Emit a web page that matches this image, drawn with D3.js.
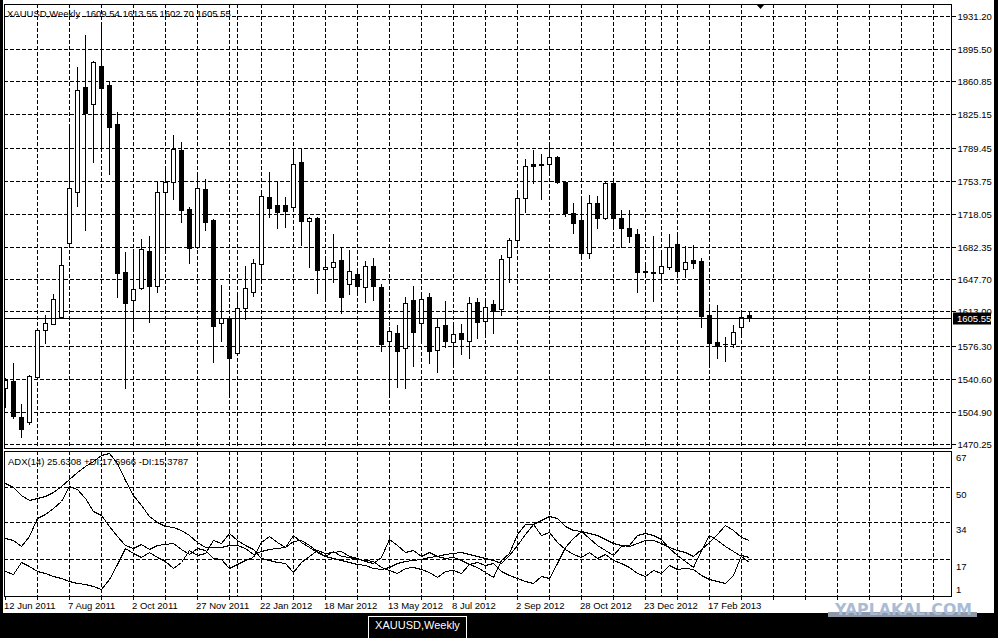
<!DOCTYPE html>
<html>
<head>
<meta charset="utf-8">
<script src="https://cdn.jsdelivr.net/npm/d3@7"></script>
<style>
  html, body { margin: 0; padding: 0; background: #000; }
  svg { display: block; font-family: "Liberation Sans", Arial, sans-serif; }
</style>
</head>
<body>
<div id="chart"></div>
<script>
const symbol = "XAUUSD,Weekly"

// weekly bars, 12 Jun 2011 .. 24 Mar 2013
const openP = [1530.9, 1538.4, 1499.7, 1494.3, 1542.7, 1593.3, 1599.8, 1607.3, 1686.9, 1741.8,
  1854.8, 1836.5, 1877.4, 1857.0, 1815.0, 1655.7, 1625.6, 1638.5, 1678.3, 1640.7,
  1741.8, 1752.6, 1787.0, 1723.5, 1682.6, 1745.0, 1711.7, 1600.9, 1606.2, 1568.6,
  1617.0, 1634.2, 1664.3, 1736.4, 1727.8, 1727.8, 1725.7, 1774.1, 1710.6, 1713.8,
  1659.0, 1661.1, 1668.6, 1642.8, 1653.6, 1639.6, 1662.2, 1639.6, 1581.5, 1590.1,
  1573.9, 1625.6, 1600.9, 1628.8, 1571.8, 1598.7, 1580.4, 1590.1, 1581.5, 1623.4,
  1603.0, 1621.3, 1615.9, 1671.9, 1690.2, 1735.4, 1771.9, 1771.9, 1771.9, 1779.5,
  1752.6, 1719.2, 1711.7, 1676.2, 1730.0, 1713.8, 1751.5, 1713.8, 1703.1, 1696.6,
  1655.7, 1654.7, 1654.7, 1661.1, 1685.9, 1659.0, 1668.6, 1667.6, 1609.5, 1580.4,
  1578.3, 1578.3, 1596.5, 1609.54]
const highP = [1541.7, 1557.8, 1513.7, 1544.9, 1594.0, 1609.5, 1632.1, 1681.6, 1815.0, 1876.3,
  1910.7, 1882.8, 1920.4, 1861.2, 1827.9, 1677.2, 1680.5, 1691.2, 1694.5, 1752.6,
  1769.8, 1803.1, 1795.6, 1725.7, 1763.3, 1755.8, 1712.5, 1641.7, 1607.3, 1633.1,
  1662.2, 1669.7, 1739.7, 1763.3, 1752.6, 1736.4, 1789.2, 1789.2, 1714.9, 1714.9,
  1671.9, 1696.6, 1682.6, 1679.4, 1660.0, 1667.6, 1670.8, 1642.8, 1596.5, 1598.7,
  1628.8, 1640.7, 1633.1, 1633.1, 1606.2, 1624.5, 1601.9, 1599.8, 1628.8, 1627.8,
  1624.5, 1625.6, 1674.0, 1692.3, 1742.9, 1777.3, 1787.0, 1782.7, 1794.5, 1780.5,
  1753.5, 1730.0, 1737.5, 1738.6, 1737.5, 1752.6, 1752.5, 1722.4, 1722.4, 1702.0,
  1666.5, 1694.5, 1678.3, 1696.6, 1698.8, 1683.7, 1684.8, 1670.8, 1621.3, 1620.2,
  1585.8, 1598.7, 1614.8, 1613.55]
const lowP = [1510.5, 1498.6, 1478.2, 1492.2, 1541.7, 1579.3, 1599.0, 1606.5, 1682.6, 1726.7,
  1700.9, 1774.1, 1790.2, 1761.2, 1628.8, 1530.9, 1593.3, 1637.5, 1601.9, 1634.2,
  1677.2, 1734.3, 1709.5, 1665.4, 1681.6, 1700.9, 1558.9, 1581.5, 1522.3, 1567.6,
  1605.2, 1629.9, 1648.2, 1714.9, 1703.1, 1704.2, 1721.4, 1684.8, 1661.1, 1633.1,
  1625.6, 1645.0, 1611.6, 1632.1, 1631.0, 1623.4, 1625.6, 1570.7, 1525.5, 1532.0,
  1530.9, 1554.6, 1579.3, 1557.8, 1548.1, 1575.0, 1553.5, 1567.5, 1563.2, 1584.7,
  1590.1, 1590.1, 1609.5, 1645.0, 1682.6, 1720.3, 1751.5, 1734.3, 1762.3, 1751.5,
  1716.0, 1697.7, 1670.8, 1670.8, 1703.1, 1712.8, 1702.0, 1682.6, 1688.0, 1634.2,
  1650.3, 1624.5, 1647.1, 1659.0, 1653.6, 1650.3, 1660.0, 1596.5, 1553.5, 1563.2,
  1559.9, 1575.0, 1590.1, 1602.70]
const closeP = [1539.5, 1500.8, 1486.8, 1543.8, 1593.3, 1600.9, 1626.7, 1663.3, 1746.1, 1851.6,
  1826.8, 1881.7, 1853.7, 1811.8, 1654.7, 1622.4, 1637.4, 1680.5, 1640.7, 1741.8,
  1752.6, 1788.1, 1722.4, 1681.5, 1746.1, 1709.5, 1597.6, 1606.2, 1563.2, 1617.0,
  1638.5, 1665.4, 1737.5, 1724.6, 1720.3, 1721.4, 1771.9, 1710.6, 1713.8, 1657.9,
  1661.1, 1666.5, 1628.8, 1656.8, 1640.7, 1662.2, 1640.7, 1578.3, 1592.2, 1570.7,
  1622.4, 1591.2, 1626.7, 1570.7, 1596.5, 1581.5, 1589.0, 1583.6, 1622.4, 1601.9,
  1618.1, 1613.8, 1669.7, 1690.2, 1735.4, 1769.8, 1769.8, 1771.0, 1779.5, 1752.6,
  1719.2, 1708.4, 1676.2, 1730.0, 1713.8, 1751.5, 1713.8, 1703.1, 1694.5, 1655.7,
  1656.5, 1655.5, 1662.2, 1682.6, 1656.8, 1666.5, 1665.4, 1608.4, 1579.3, 1576.1,
  1577.5, 1591.2, 1607.3, 1605.55]

// ADX(14) window
const adx = [51.9, 50.0, 46.5, 44.2, 45.0, 46.1, 47.8, 50.6, 53.8, 56.8,
  59.5, 62.1, 64.8, 65.5, 61.0, 53.4, 46.5, 41.7, 36.6, 34.0,
  32.0, 31.7, 30.5, 27.9, 24.8, 22.7, 22.4, 22.4, 23.6, 23.6,
  21.8, 19.3, 20.6, 21.6, 22.1, 22.7, 25.4, 25.9, 23.6, 20.6,
  18.3, 17.6, 16.7, 15.6, 14.8, 14.2, 12.8, 12.3, 13.5, 15.0,
  16.0, 16.5, 17.0, 17.8, 18.5, 19.2, 19.8, 20.0, 19.5, 18.5,
  17.5, 16.3, 15.2, 19.0, 23.6, 28.5, 33.1, 35.1, 36.9, 35.8,
  32.0, 30.5, 29.7, 29.0, 27.9, 26.0, 24.5, 23.5, 22.8, 24.5,
  25.5, 25.5, 24.5, 22.5, 21.0, 20.0, 18.5, 21.5, 25.0, 28.5,
  32.6, 30.5, 27.3, 25.6308]
const plusDI = [26.7, 25.9, 23.1, 27.4, 35.8, 37.7, 40.4, 43.8, 50.6, 49.3,
  45.0, 38.9, 37.3, 32.0, 27.4, 23.6, 22.0, 24.0, 21.5, 23.5,
  23.8, 24.5, 21.5, 19.5, 22.0, 21.0, 17.5, 17.0, 13.0, 14.5,
  16.5, 18.0, 25.0, 27.5, 25.0, 22.5, 28.0, 25.0, 22.5, 20.0,
  18.5, 20.5, 18.5, 18.0, 17.0, 16.5, 16.0, 13.5, 12.0, 10.5,
  13.0, 13.5, 12.5, 11.0, 8.5, 11.5, 12.0, 10.5, 14.5, 13.5,
  11.0, 8.5, 16.3, 19.6, 28.3, 33.1, 33.1, 28.2, 29.5, 25.0,
  21.5, 19.5, 18.0, 20.0, 17.5, 19.5, 16.5, 15.0, 13.5, 10.5,
  9.0, 12.0, 10.5, 14.0, 12.5, 13.0, 12.5, 9.5, 8.0, 7.0,
  6.0, 9.5, 19.0, 17.6966]
const minusDI = [11.7, 9.9, 15.5, 13.7, 11.7, 10.6, 9.4, 8.3, 6.8, 6.0,
  5.3, 4.5, 3.4, 7.6, 14.5, 22.1, 19.8, 18.0, 20.3, 18.0,
  16.1, 12.9, 15.7, 21.2, 18.9, 19.8, 25.8, 24.4, 29.0, 25.8,
  23.5, 21.6, 17.5, 16.6, 15.7, 15.2, 11.1, 15.7, 18.4, 21.2,
  19.8, 20.3, 20.7, 18.4, 17.5, 16.1, 15.2, 18.0, 26.2, 23.5,
  20.3, 21.2, 18.4, 20.3, 18.4, 17.5, 18.0, 16.6, 14.8, 15.7,
  14.3, 15.2, 11.5, 9.7, 8.3, 6.9, 6.0, 9.2, 8.3, 15.2,
  22.5, 26.7, 29.9, 26.7, 23.5, 21.2, 18.9, 23.0, 23.5, 28.0,
  29.0, 28.0, 26.0, 22.0, 19.0, 16.0, 13.5, 21.0, 28.0, 25.8,
  23.0, 20.7, 18.4, 15.3787]

const priceTicks = [1931.20, 1895.50, 1860.85, 1825.15, 1789.45, 1753.75, 1718.05,
  1682.35, 1647.70, 1613.00, 1576.30, 1540.60, 1504.90, 1470.25]
const adxTicks = [67, 50, 34, 17, 1]
const adxGrid = [50, 34, 17]
const dateLabels = ["12 Jun 2011", "7 Aug 2011", "2 Oct 2011", "27 Nov 2011", "22 Jan 2012",
  "18 Mar 2012", "13 May 2012", "8 Jul 2012", "2 Sep 2012", "28 Oct 2012", "23 Dec 2012", "17 Feb 2013"]
const yearStartBars = [29, 82]

const W = 998, H = 638
const main = { left: 4, right: 951, top: 4, bottom: 448 }
const sub = { top: 451, bottom: 596 }
const last = closeP.length - 1

const svg = d3.select("#chart").append("svg")
  .attr("width", W).attr("height", H)

svg.append("rect").attr("width", W).attr("height", H).attr("fill", "#000")
svg.append("rect").attr("x", 3).attr("y", 0).attr("width", 991).attr("height", 613).attr("fill", "#fff")

// bar index -> pixel, 8 px per week
const x = d3.scaleLinear().domain([0, 116]).range([5, 933]).interpolate(d3.interpolateRound)
const y = d3.scaleLinear().domain([1470.25, 1931.2]).range([444, 16]).interpolate(d3.interpolateRound)
const yi = d3.scaleLinear().domain([0, 67]).range([596, 450]).interpolate(d3.interpolateRound)

const gridBars = d3.range(4, 117, 4)
const dash = "4,2"

const defs = svg.append("defs")
defs.append("clipPath").attr("id", "clipMain").append("rect")
  .attr("x", main.left + 1).attr("y", main.top + 1)
  .attr("width", main.right - main.left - 1).attr("height", main.bottom - main.top - 1)
defs.append("clipPath").attr("id", "clipSub").append("rect")
  .attr("x", main.left + 1).attr("y", sub.top + 1)
  .attr("width", main.right - main.left - 1).attr("height", sub.bottom - sub.top - 1)

const grid = svg.append("g")
  .attr("stroke", "#000").attr("stroke-width", 1).attr("stroke-dasharray", dash)
  .attr("shape-rendering", "crispEdges")

grid.selectAll(".hmain").data(priceTicks).enter().append("line")
  .attr("x1", main.left).attr("x2", main.right)
  .attr("y1", d => y(d) + 0.5).attr("y2", d => y(d) + 0.5)

grid.selectAll(".hsub").data(adxGrid).enter().append("line")
  .attr("x1", main.left).attr("x2", main.right)
  .attr("y1", d => yi(d) + 0.5).attr("y2", d => yi(d) + 0.5)

const vBars = gridBars.concat(yearStartBars)
grid.selectAll(".vmain").data(vBars).enter().append("line")
  .attr("x1", d => x(d) + 0.5).attr("x2", d => x(d) + 0.5)
  .attr("y1", main.top).attr("y2", main.bottom)
grid.selectAll(".vsub").data(vBars).enter().append("line")
  .attr("x1", d => x(d) + 0.5).attr("x2", d => x(d) + 0.5)
  .attr("y1", sub.top).attr("y2", sub.bottom)

// candles
const bars = d3.range(closeP.length).map(i => ({
  i, o: openP[i], h: highP[i], l: lowP[i], c: closeP[i]
}))

const cg = svg.append("g").attr("clip-path", "url(#clipMain)").attr("shape-rendering", "crispEdges")

cg.selectAll(".wick").data(bars).enter().append("line")
  .attr("x1", d => x(d.i) + 0.5).attr("x2", d => x(d.i) + 0.5)
  .attr("y1", d => y(d.h)).attr("y2", d => y(d.l) + 1)
  .attr("stroke", "#000")

cg.selectAll(".body").data(bars).enter().append("rect")
  .attr("x", d => x(d.i) - 1.5)
  .attr("y", d => y(Math.max(d.o, d.c)) + 0.5)
  .attr("width", 4)
  .attr("height", d => Math.max(y(Math.min(d.o, d.c)) - y(Math.max(d.o, d.c)), 0.01))
  .attr("fill", d => d.c >= d.o ? "#fff" : "#000")
  .attr("stroke", "#000")

// current price line
svg.append("line")
  .attr("x1", main.left).attr("x2", main.right)
  .attr("y1", y(closeP[last]) + 0.5).attr("y2", y(closeP[last]) + 0.5)
  .attr("stroke", "#000").attr("shape-rendering", "crispEdges")

// ADX lines
const line = d3.line().x((d, i) => x(i) + 0.5).y(d => yi(d) + 0.5)
const lg = svg.append("g").attr("clip-path", "url(#clipSub)")
  .attr("fill", "none").attr("stroke", "#000").attr("stroke-width", 1)
  .attr("shape-rendering", "crispEdges")
;[adx, plusDI, minusDI].forEach(s => lg.append("path").attr("d", line(s)))

// frames
const frames = svg.append("g").attr("fill", "none").attr("stroke", "#000").attr("shape-rendering", "crispEdges")
frames.append("rect").attr("x", main.left + 0.5).attr("y", main.top + 0.5)
  .attr("width", main.right - main.left).attr("height", main.bottom - main.top)
frames.append("rect").attr("x", main.left + 0.5).attr("y", sub.top + 0.5)
  .attr("width", main.right - main.left).attr("height", sub.bottom - sub.top)

// price axis
const yAxis = d3.axisRight(y).tickValues(priceTicks).tickFormat(d3.format(".2f"))
  .tickSize(4).tickPadding(2)
const gy = svg.append("g").attr("transform", `translate(${main.right + 0.5},0)`).call(yAxis)
gy.select(".domain").remove()
gy.selectAll("line").attr("stroke", "#000").attr("shape-rendering", "crispEdges")
gy.selectAll("text").attr("fill", "#000").attr("font-size", "9.5px")
  .attr("font-family", "Liberation Sans, Arial, sans-serif")

// last price box (covers the lower half of the 1613.00 label, as in MT4)
const ly = y(closeP[last]) + 0.5
svg.append("rect").attr("x", 953).attr("y", ly - 6).attr("width", 38).attr("height", 12).attr("fill", "#000")
svg.append("text").attr("x", 957).attr("y", ly).attr("dy", "0.35em")
  .attr("fill", "#fff").attr("font-size", "9.5px").text(d3.format(".2f")(closeP[last]))

// ADX axis labels
svg.append("g").selectAll("text").data(adxTicks).enter().append("text")
  .attr("x", 956)
  .attr("y", d => yi(d) + (d === adxTicks[adxTicks.length - 1] ? -4 : 8))
  .attr("dy", "0.35em")
  .attr("font-size", "9.5px").attr("fill", "#000")
  .text(d => d)

// date axis
const xAxis = d3.axisBottom(x).tickValues(gridBars.concat([0]))
  .tickSize(3)
  .tickFormat(d => d % 8 === 0 && dateLabels[d / 8] ? dateLabels[d / 8] : "")
const gx = svg.append("g").attr("transform", `translate(0,${sub.bottom + 0.5})`).call(xAxis)
gx.select(".domain").remove()
gx.selectAll("line").attr("stroke", "#000").attr("shape-rendering", "crispEdges")
gx.selectAll("text").attr("fill", "#000").attr("font-size", "9.5px")
  .attr("font-family", "Liberation Sans, Arial, sans-serif")
  .attr("text-anchor", "start").attr("x", -1.5).attr("y", 12).attr("dy", 0)

// titles
svg.append("text").attr("x", 7).attr("y", 16.5)
  .attr("font-size", "9.5px").attr("fill", "#000").style("white-space", "pre")
  .text(`${symbol}  ${[openP[last], highP[last], lowP[last], closeP[last]].map(d3.format(".2f")).join(" ")}`)

svg.append("text").attr("x", 8).attr("y", 464.5)
  .attr("font-size", "9.5px").attr("fill", "#000")
  .text(`ADX(14) ${adx[last].toFixed(4)} +DI:${plusDI[last].toFixed(4)} -DI:${minusDI[last].toFixed(4)}`)

// chart shift marker
const sx = x(94.4) + 0.5
svg.append("path").attr("d", `M${sx - 4.5},4 L${sx + 4.5},4 L${sx},9 Z`).attr("fill", "#000")

// watermark
svg.append("rect").attr("x", 828).attr("y", 612).attr("width", 149).attr("height", 5).attr("fill", "#8f98a6")
svg.append("text").attr("x", 835).attr("y", 614.5)
  .attr("font-family", "DejaVu Sans, sans-serif").attr("font-weight", "bold")
  .attr("font-size", "15px").attr("fill", "#a9bbd5")
  .attr("textLength", 137).attr("lengthAdjust", "spacingAndGlyphs")
  .text("YAPLAKAL.COM")

// bottom tab
svg.append("rect").attr("x", 368.5).attr("y", 616.5).attr("width", 98).attr("height", 30)
  .attr("fill", "#000").attr("stroke", "#fff")
svg.append("text").attr("x", 417.5).attr("y", 628.5).attr("text-anchor", "middle")
  .attr("font-size", "11px").attr("fill", "#fff").text(symbol)
</script>
</body>
</html>
